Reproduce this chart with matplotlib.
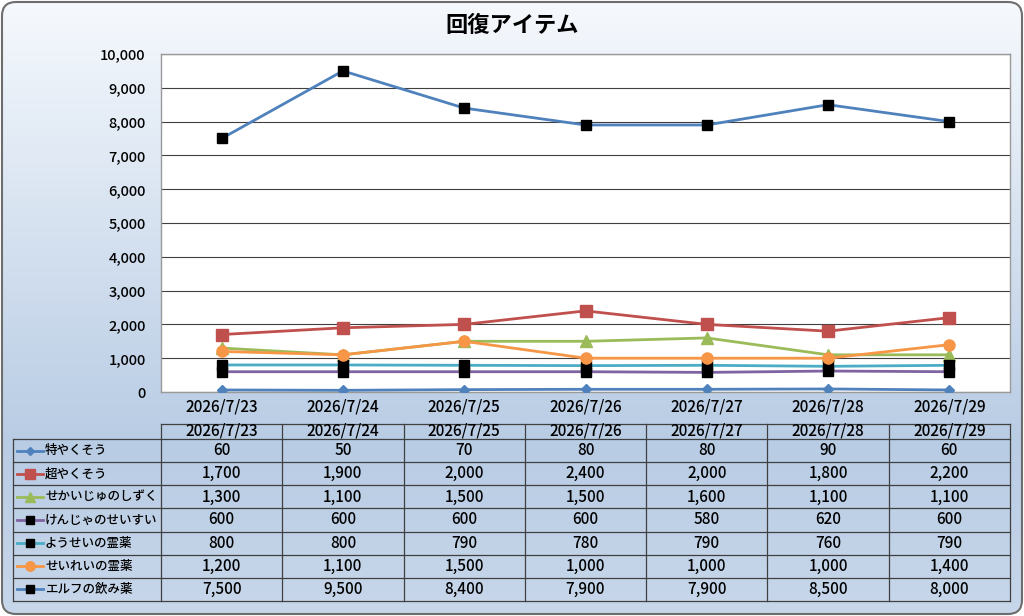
import numpy as np
import matplotlib
matplotlib.use("Agg")
import matplotlib.pyplot as plt
from matplotlib.patches import FancyBboxPatch
from matplotlib.lines import Line2D
from matplotlib.colors import LinearSegmentedColormap

plt.rcParams['font.family'] = ['Noto Sans CJK JP', 'DejaVu Sans']
plt.rcParams['font.weight'] = 'medium'

title = "回復アイテム"
dates = ["2026/7/23", "2026/7/24", "2026/7/25", "2026/7/26", "2026/7/27", "2026/7/28", "2026/7/29"]
series_names = ["特やくそう", "超やくそう", "せかいじゅのしずく", "けんじゃのせいすい",
                "ようせいの霊薬", "せいれいの霊薬", "エルフの飲み薬"]
tokuyakusou = [60, 50, 70, 80, 80, 90, 60]
chouyakusou = [1700, 1900, 2000, 2400, 2000, 1800, 2200]
sekaiju = [1300, 1100, 1500, 1500, 1600, 1100, 1100]
kenja = [600, 600, 600, 600, 580, 620, 600]
yousei = [800, 800, 790, 780, 790, 760, 790]
seirei = [1200, 1100, 1500, 1000, 1000, 1000, 1400]
elf = [7500, 9500, 8400, 7900, 7900, 8500, 8000]
series_values = [tokuyakusou, chouyakusou, sekaiju, kenja, yousei, seirei, elf]

line_colors = ["#4f81bd", "#c0504d", "#9bbb59", "#8064a2", "#4bacc6", "#f79646", "#4f81bd"]
markers = ["D", "s", "^", "s", "s", "o", "s"]
marker_face = ["#4f81bd", "#c0504d", "#9bbb59", "black", "black", "#f79646", "black"]
marker_sizes = [5, 8, 8, 7.5, 7.5, 8, 7.5]

W, H = 1024, 616
fig = plt.figure(figsize=(W / 100, H / 100), dpi=100)

# background gradient
bg = fig.add_axes([0, 0, 1, 1], zorder=0)
bg.set_xlim(0, W); bg.set_ylim(H, 0); bg.axis('off')
cmap = LinearSegmentedColormap.from_list(
    "g", [(0.0, (246/255, 249/255, 253/255)), (0.72, (184/255, 204/255, 228/255)),
          (1.0, (200/255, 215/255, 234/255))])
grad = np.linspace(0, 1, 256).reshape(-1, 1)
im = bg.imshow(grad, cmap=cmap, extent=[0, W, H, 0], aspect='auto')
box = FancyBboxPatch((2, 2), W - 4, H - 4, boxstyle="round,pad=0,rounding_size=14",
                     facecolor='none', edgecolor='#6d6d6d', linewidth=1.5)
bg.add_patch(box)
im.set_clip_path(box)

fig.text(512 / W, 1 - 25 / H, title, ha='center', va='center', fontsize=16, fontweight='bold')

# plot area
L, R, T, B = 161, 1010, 54, 392
ax = fig.add_axes([L / W, 1 - B / H, (R - L) / W, (B - T) / H], zorder=2)
ax.set_facecolor('white')
x = np.arange(len(dates))
for vals, c, m, mf, ms in zip(series_values, line_colors, markers, marker_face, marker_sizes):
    ax.plot(x, vals, color=c, linewidth=2, marker=m, markersize=ms,
            markerfacecolor=mf, markeredgecolor=mf, zorder=3)
ax.set_xlim(-0.5, len(dates) - 0.5)
ax.set_ylim(0, 10000)
ax.set_yticks(np.arange(0, 10001, 1000))
ax.set_yticklabels([f"{v:,}" for v in range(0, 10001, 1000)], fontsize=10.5)
ax.set_xticks(x)
ax.set_xticklabels(dates, fontsize=11)
ax.tick_params(axis='both', length=0)
ax.tick_params(axis='x', pad=5)
ax.tick_params(axis='y', pad=11)
ax.grid(axis='y', color='#404040', linewidth=0.8)
ax.set_axisbelow(True)
for s in ax.spines.values():
    s.set_color('#9a9a9a'); s.set_linewidth(1)

# data table
tb = fig.add_axes([0, 0, 1, 1], zorder=3)
tb.set_xlim(0, W); tb.set_ylim(H, 0); tb.axis('off')
col_w = (R - L) / len(dates)
hdr_top, hdr_bot = 424, 439
row_bot = 601
row_h = (row_bot - hdr_bot) / len(series_names)
lab_left = 13
lc = '#404040'
lw = 0.9
tb.plot([L, R], [hdr_top, hdr_top], color=lc, lw=lw)
for i in range(len(dates) + 1):
    xx = L + i * col_w
    tb.plot([xx, xx], [hdr_top, row_bot], color=lc, lw=lw)
for i, d in enumerate(dates):
    tb.text(L + (i + 0.5) * col_w, (hdr_top + hdr_bot) / 2 - 1, d, ha='center', va='center', fontsize=11)
for k in range(len(series_names) + 1):
    yy = hdr_bot + k * row_h
    tb.plot([lab_left, R], [yy, yy], color=lc, lw=lw)
tb.plot([lab_left, lab_left], [hdr_bot, row_bot], color=lc, lw=lw)
for k, (name, vals) in enumerate(zip(series_names, series_values)):
    yc = hdr_bot + (k + 0.5) * row_h
    tb.add_line(Line2D([17, 43], [yc, yc], color=line_colors[k], lw=2))
    tb.add_line(Line2D([30], [yc], marker=markers[k], markersize=marker_sizes[k] * 0.85,
                       markerfacecolor=marker_face[k], markeredgecolor=marker_face[k]))
    tb.text(45, yc, name, ha='left', va='center', fontsize=9)
    for i, v in enumerate(vals):
        tb.text(L + (i + 0.5) * col_w, yc, f"{v:,}", ha='center', va='center', fontsize=11)

fig.savefig("out.png", dpi=100)
